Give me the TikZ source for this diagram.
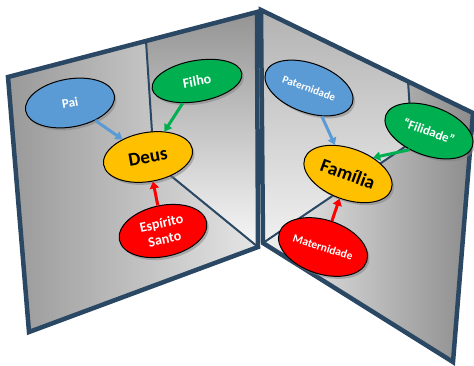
\documentclass[tikz,border=0pt]{standalone}
\usepackage{fontspec}
\setmainfont{Carlito}
\usetikzlibrary{shapes.geometric,arrows.meta,shadows}
\definecolor{framenavy}{HTML}{2A4763}
\definecolor{paiblue}{HTML}{5B9BD5}
\definecolor{filhogreen}{HTML}{00B050}
\definecolor{deusyellow}{HTML}{FFC000}
\definecolor{santored}{HTML}{FF0000}
\newcommand{\fs}[1]{\fontsize{#1}{1.15\dimexpr#1pt\relax}\selectfont}
\begin{document}
\begin{tikzpicture}[x=1pt,y=-1pt,
  frame/.style={draw=framenavy, line width=4.5pt},
  edge/.style={draw=framenavy, line width=2pt},
  bubble/.style={ellipse, draw=black, line width=1pt, inner sep=0pt, font=\bfseries, text=white,
    drop shadow={shadow xshift=2pt, shadow yshift=-2.5pt, opacity=.5}},
  link/.style={line width=3pt, -{Triangle[length=7pt,width=9pt]}}]
\useasboundingbox (0,0) rectangle (474,365);
% left mirror
\coordinate (ltl) at (8,77);
\coordinate (ltr) at (257,12);
\coordinate (lbr) at (258,247);
\coordinate (lbl) at (29,332);
\coordinate (ltop) at (146,41);
\coordinate (lcorner) at (154,162);
\shade[left color=black!40, right color=black!10] (ltl) -- (ltop) -- (lcorner) -- (lbr) -- (lbl) -- cycle;
\shade[top color=black!42, bottom color=black!3] (ltop) -- (ltr) -- (lbr) -- (lcorner) -- cycle;
\draw[edge] (ltop) -- (lcorner) -- (lbr);
\draw[frame] (ltl) -- (ltr) -- (lbr) -- (lbl) -- cycle;
% right mirror
\coordinate (rtl) at (261,10);
\coordinate (rtr) at (473,113);
\coordinate (rbr) at (453,362);
\coordinate (rbl) at (263,243);
\coordinate (rtop) at (408,81);
\coordinate (rcorner) at (412,142);
\shade[top color=black!30, bottom color=black!6] (rtl) -- (rtop) -- (rcorner) -- (rbl) -- cycle;
\shade[left color=black!6, right color=black!45] (rtop) -- (rtr) -- (rbr) -- (rbl) -- (rcorner) -- cycle;
\draw[edge] (rtop) -- (rcorner) -- (rbl);
\draw[frame] (rtl) -- (rtr) -- (rbr) -- (rbl) -- cycle;
% bubbles
\node[bubble, fill=paiblue, minimum width=90pt, minimum height=48pt, rotate=10, font=\bfseries\fs{13}] (pai) at (70,103) {Pai};
\node[bubble, fill=filhogreen, minimum width=91pt, minimum height=41pt, rotate=10, font=\bfseries\fs{14}] (filho) at (197,81) {Filho};
\node[bubble, fill=deusyellow, minimum width=90pt, minimum height=49pt, rotate=10, text=black, font=\bfseries\fs{19}] (deus) at (148,157) {Deus};
\node[bubble, fill=santored, minimum width=89pt, minimum height=51pt, rotate=12, align=center, font=\bfseries\fs{14}] (espirito) at (163,231) {Espírito\\Santo};
\node[bubble, fill=paiblue, minimum width=92pt, minimum height=49pt, rotate=-20, font=\bfseries\fs{11}] (paternidade) at (309,88) {Paternidade};
\node[bubble, fill=filhogreen, minimum width=92pt, minimum height=49pt, rotate=-20, font=\bfseries\fs{13}] (filidade) at (429,131) {``Filidade''};
\node[bubble, fill=deusyellow, minimum width=92pt, minimum height=51pt, rotate=-20, text=black, font=\bfseries\fs{19}] (familia) at (348,174) {Família};
\node[bubble, fill=santored, minimum width=92pt, minimum height=54pt, rotate=-18, font=\bfseries\fs{11.5}] (maternidade) at (323,247) {Maternidade};
% arrows
\draw[link, paiblue] (pai) -- (deus);
\draw[link, filhogreen] (filho) -- (deus);
\draw[link, santored] (espirito) -- (deus);
\draw[link, paiblue] (paternidade) -- (familia);
\draw[link, filhogreen] (filidade.244) -- (familia.53);
\draw[link, santored] (maternidade) -- (familia);
\end{tikzpicture}
\end{document}
